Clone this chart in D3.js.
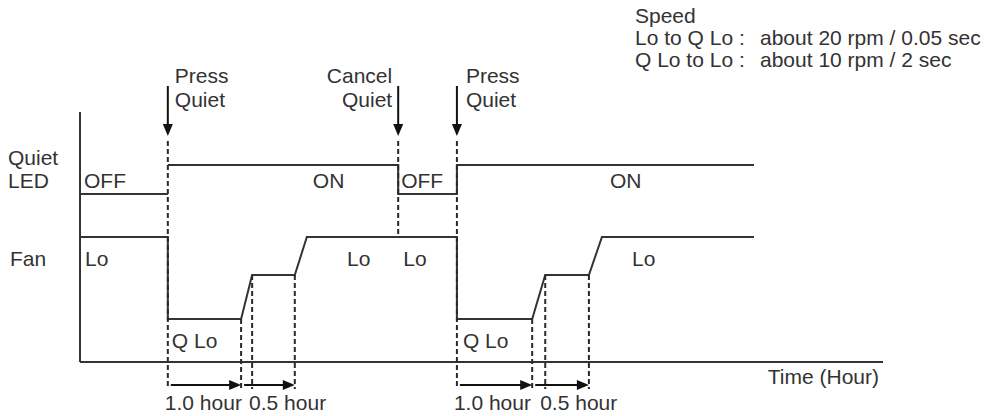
<!DOCTYPE html>
<html>
<head>
<meta charset="utf-8">
<script src="https://cdn.jsdelivr.net/npm/d3@7"></script>
<style>
  html, body { margin: 0; padding: 0; background: #fff; }
  svg text { font-family: "Liberation Sans", Arial, Helvetica, sans-serif; font-size: 21px; fill: #333; }
</style>
</head>
<body>
<svg id="chart" width="997" height="416"></svg>
<script>
// ---- data (time in schematic units, levels in schematic units) ----
const levelNames  = ["QLo", "Mid", "Lo", "OFF", "ON"];
const levelValues = [1.72, 3.48, 5.0, 6.72, 7.88];

const ledTimes  = [0, 17.5, 63.4, 75.1, 134.3];
const ledStates = ["OFF", "ON", "OFF", "ON"];
const ledLabelTimes = [0.8, 46.4, 64.0, 105.6];
const ledLabelTexts = ["OFF", "ON", "OFF", "ON"];

const fanTimes  = [0, 17.5, 17.5, 32.1, 34.3, 42.8, 45.2, 75.1, 75.1, 90.1, 92.7, 101.4, 104.0, 134.3];
const fanLevels = ["Lo", "Lo", "QLo", "QLo", "Mid", "Mid", "Lo", "Lo", "QLo", "QLo", "Mid", "Mid", "Lo", "Lo"];
const fanLabelTimes  = [1.0, 18.3, 53.2, 64.4, 76.3, 110.0];
const fanLabelTexts  = ["Lo", "Q Lo", "Lo", "Lo", "Q Lo", "Lo"];
const fanLabelLevels = ["Lo", "QLo", "Lo", "Lo", "QLo", "Lo"];

const eventTimes  = [17.5, 63.4, 75.1];
const eventLines1 = ["Press", "Cancel", "Press"];
const eventLines2 = ["Quiet", "Quiet", "Quiet"];

// dashed guide lines: time, from level (null = from event arrow), to (null = duration row)
const guideTimes = [17.5, 32.1, 34.3, 42.8, 63.4, 75.1, 90.1, 92.7, 101.4];
const guideFrom  = [null, "QLo", "Mid", "Mid", null, null, "QLo", "Mid", "Mid"];
const guideTo    = [null, null, null, null, "Lo", null, null, null, null];

const durationFrom   = [17.5, 32.1, 75.1, 90.1];
const durationTo     = [32.1, 42.8, 90.1, 101.4];
const durationLabels = ["1.0 hour", "0.5 hour", "1.0 hour", "0.5 hour"];

const rowLabels = [["Quiet", "LED"], ["Fan"]];
const speedTitle = "Speed";
const speedLeft  = ["Lo to Q Lo :", "Q Lo to Lo :"];
const speedRight = ["about 20 rpm / 0.05 sec", "about 10 rpm / 2 sec"];
const xAxisTitle = "Time (Hour)";

// ---- scales ----
const x = d3.scaleLinear().domain([0, 160]).range([80, 883]);
const y = d3.scaleLinear().domain([0, 10]).range([362, 112]);
const lv = name => levelValues[levelNames.indexOf(name)];

const ink = "#333";
const svg = d3.select("#chart");

// axes (plain lines, no ticks)
svg.append("line").attr("x1", x(0)).attr("x2", x(0)).attr("y1", y(10)).attr("y2", y(0))
  .attr("stroke", ink).attr("stroke-width", 2);
svg.append("line").attr("x1", x(0)).attr("x2", x(160)).attr("y1", y(0)).attr("y2", y(0))
  .attr("stroke", ink).attr("stroke-width", 2);

const line = d3.line().x(d => x(d[0])).y(d => y(d[1]));

// LED step line (first transition only marked by dashed guide)
const ledPath1 = [[ledTimes[0], lv(ledStates[0])], [ledTimes[1], lv(ledStates[0])]];
const ledPath2 = [];
for (let i = 1; i < ledStates.length; i++) {
  if (i > 1) ledPath2.push([ledTimes[i], lv(ledStates[i - 1])]);
  ledPath2.push([ledTimes[i], lv(ledStates[i])]);
  ledPath2.push([ledTimes[i + 1], lv(ledStates[i])]);
}
[ledPath1, ledPath2].forEach(p => {
  svg.append("path").attr("d", line(p)).attr("fill", "none")
    .attr("stroke", ink).attr("stroke-width", 2);
});

// fan line
svg.append("path")
  .attr("d", line(fanTimes.map((t, i) => [t, lv(fanLevels[i])])))
  .attr("fill", "none").attr("stroke", ink).attr("stroke-width", 2)
  .attr("stroke-linejoin", "miter");

// dashed guides
const guideTopY = 141, guideBottomY = 389;
guideTimes.forEach((t, i) => {
  const y1 = guideFrom[i] ? y(lv(guideFrom[i])) : guideTopY;
  const y2 = guideTo[i] ? y(lv(guideTo[i])) : guideBottomY;
  svg.append("line").attr("x1", x(t)).attr("x2", x(t)).attr("y1", y1).attr("y2", y2)
    .attr("stroke", "#2a2a2a").attr("stroke-width", 2).attr("stroke-dasharray", "5,3");
});

// event arrows + labels
eventTimes.forEach((t, i) => {
  const cx = x(t);
  svg.append("line").attr("x1", cx).attr("x2", cx).attr("y1", 86).attr("y2", 126)
    .attr("stroke", "#111").attr("stroke-width", 2);
  svg.append("path").attr("d", `M${cx - 5},${124} L${cx + 5},${124} L${cx},${136} Z`).attr("fill", "#111");
  const isCancel = eventLines1[i] === "Cancel";
  const tx = isCancel ? cx - 6 : cx + (i === 0 ? 7 : 9);
  const anchor = isCancel ? "end" : "start";
  svg.append("text").attr("x", tx).attr("y", 83).attr("text-anchor", anchor).text(eventLines1[i]);
  svg.append("text").attr("x", tx).attr("y", 107).attr("text-anchor", anchor).text(eventLines2[i]);
});

// duration arrows + labels
const durY = 385;
durationFrom.forEach((t0, i) => {
  const xa = x(t0) + 3, xb = x(durationTo[i]);
  svg.append("line").attr("x1", xa).attr("x2", xb - 10).attr("y1", durY).attr("y2", durY)
    .attr("stroke", "#111").attr("stroke-width", 2);
  svg.append("path").attr("d", `M${xb - 12},${durY - 5} L${xb},${durY} L${xb - 12},${durY + 5} Z`).attr("fill", "#111");
  const lx = (i % 2 === 0) ? x(t0) - 3 : x(t0) + 8;
  svg.append("text").attr("x", lx).attr("y", 410).text(durationLabels[i]);
});

// LED labels
ledLabelTimes.forEach((t, i) => {
  svg.append("text").attr("x", x(t)).attr("y", y(lv("OFF")) - 6).text(ledLabelTexts[i]);
});
// Fan labels
fanLabelTimes.forEach((t, i) => {
  svg.append("text").attr("x", x(t)).attr("y", y(lv(fanLabelLevels[i])) + 29).text(fanLabelTexts[i]);
});

// row labels
svg.append("text").attr("x", 8).attr("y", 165).text(rowLabels[0][0]);
svg.append("text").attr("x", 8).attr("y", 188).text(rowLabels[0][1]);
svg.append("text").attr("x", 10).attr("y", 266).text(rowLabels[1][0]);

// axis title
svg.append("text").attr("x", 879).attr("y", 384).attr("text-anchor", "end").text(xAxisTitle);

// speed note
svg.append("text").attr("x", 635).attr("y", 23).text(speedTitle);
speedLeft.forEach((s, i) => {
  svg.append("text").attr("x", 635).attr("y", 45 + i * 22).text(s);
  svg.append("text").attr("x", 760).attr("y", 45 + i * 22).text(speedRight[i]);
});
</script>
</body>
</html>
